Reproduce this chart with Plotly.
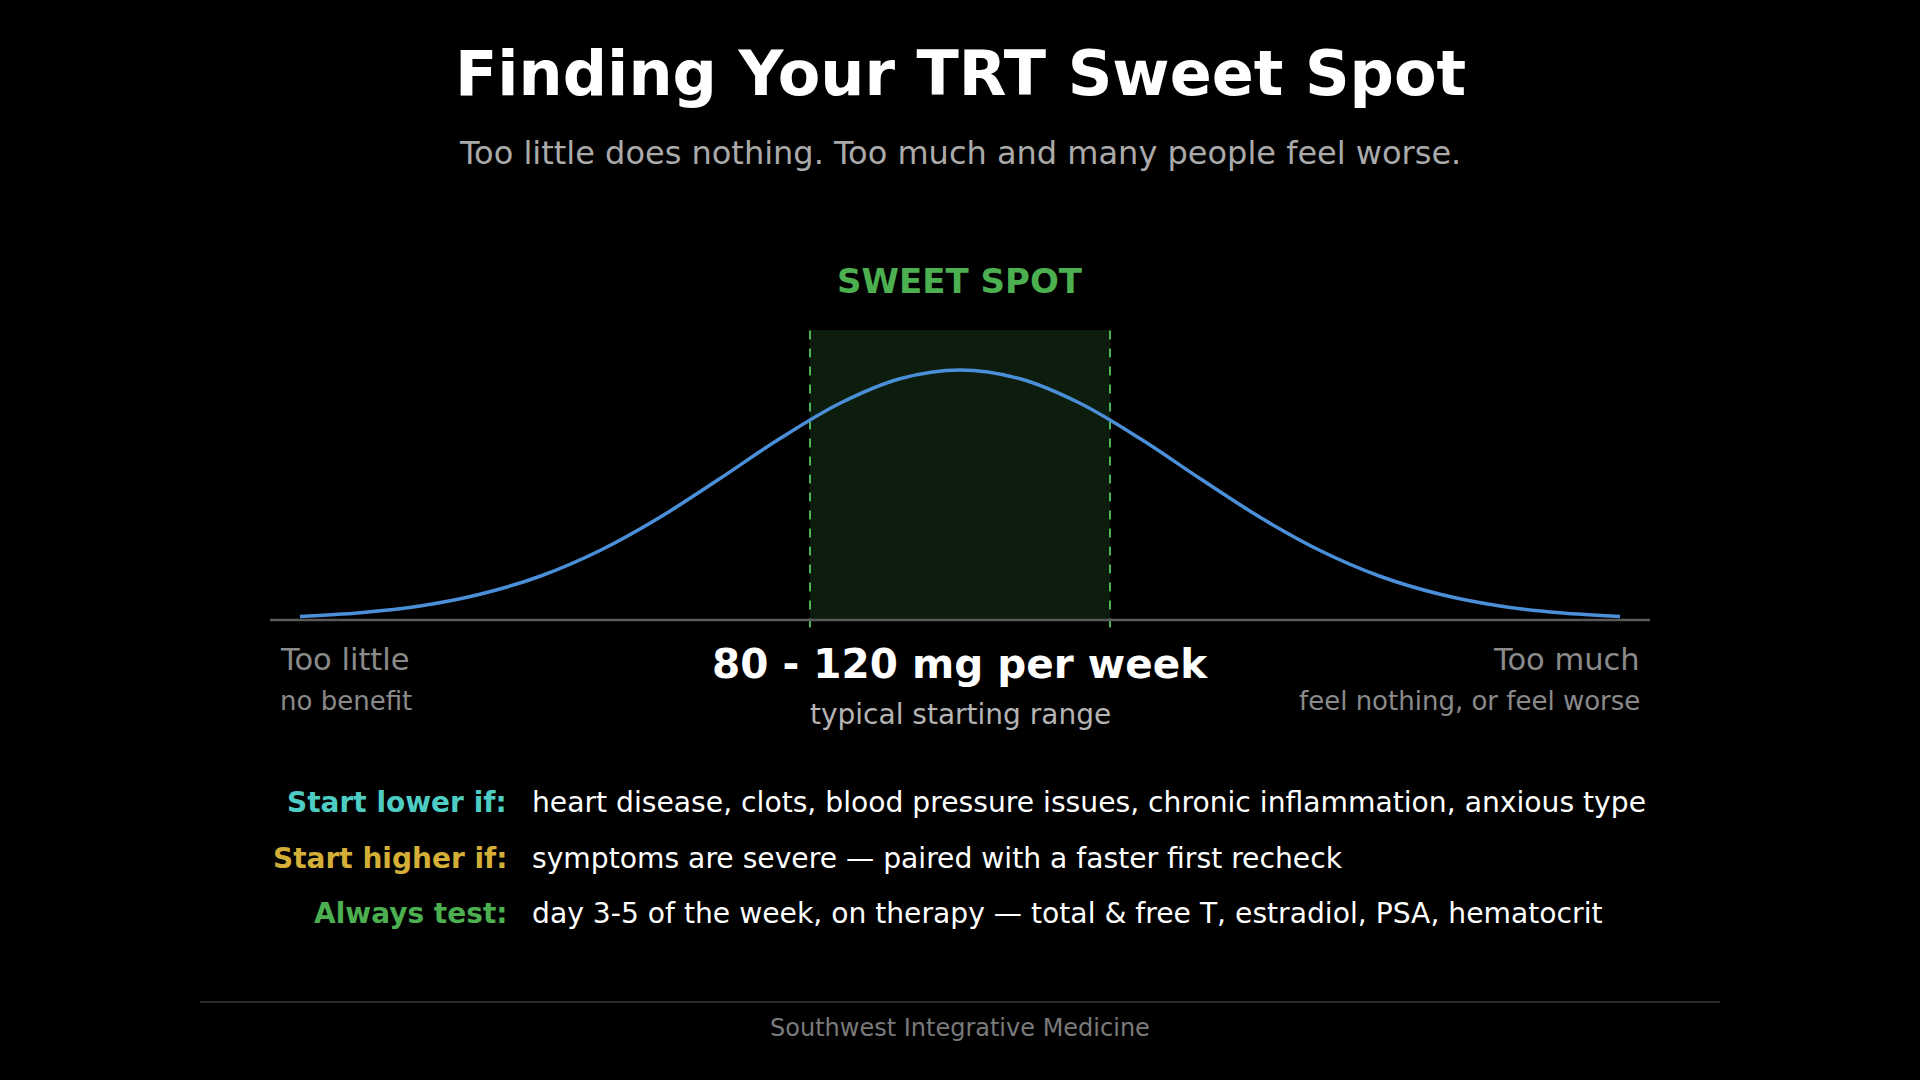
import plotly.graph_objects as go

# ---------------- data ----------------
dose_mg = [12, 20, 28, 36, 44, 52, 60, 68, 76, 84, 92, 100,
           108, 116, 124, 132, 140, 148, 156, 164, 172, 180, 188]
response = [0.014, 0.029, 0.056, 0.103, 0.175, 0.278, 0.411, 0.566, 0.726, 0.867, 0.965, 1.000,
            0.965, 0.867, 0.726, 0.566, 0.411, 0.278, 0.175, 0.103, 0.056, 0.029, 0.014]
sweet_range = [80, 120]
axis_span = [8, 192]

title_text = "Finding Your TRT Sweet Spot"
subtitle_text = "Too little does nothing. Too much and many people feel worse."
sweet_label = "SWEET SPOT"
range_label = "80 - 120 mg per week"
range_sub = "typical starting range"
left_labels = ["Too little", "no benefit"]
right_labels = ["Too much", "feel nothing, or feel worse"]
row_keys = ["Start lower if:", "Start higher if:", "Always test:"]
row_texts = [
    "heart disease, clots, blood pressure issues, chronic inflammation, anxious type",
    "symptoms are severe \u2014 paired with a faster first recheck",
    "day 3-5 of the week, on therapy \u2014 total & free T, estradiol, PSA, hematocrit",
]
row_colors = ["#4ECDC4", "#D4AF37", "#4CAF50"]
footer_text = "Southwest Integrative Medicine"

# ---------------- figure ----------------
W, H = 1920, 1080
FONT = "DejaVu Sans"
GREEN = "#4CAF50"


def px(x):
    return x / W


def py(y):
    return 1 - y / H


fig = go.Figure()
fig.add_trace(go.Scatter(
    x=dose_mg, y=response, mode="lines",
    line=dict(color="#4A8FD8", width=3.5, shape="spline", smoothing=1.0),
    hoverinfo="skip", showlegend=False,
))

shapes = [
    # sweet spot band
    dict(type="rect", xref="x", yref="y", x0=sweet_range[0], x1=sweet_range[1],
         y0=0, y1=1.16, fillcolor="rgba(76,175,80,0.16)", line=dict(width=0), layer="below"),
    dict(type="line", xref="x", yref="y", x0=sweet_range[0], x1=sweet_range[0],
         y0=-0.03, y1=1.16, line=dict(color=GREEN, width=2, dash="dash"), layer="below"),
    dict(type="line", xref="x", yref="y", x0=sweet_range[1], x1=sweet_range[1],
         y0=-0.03, y1=1.16, line=dict(color=GREEN, width=2, dash="dash"), layer="below"),
    # baseline
    dict(type="line", xref="x", yref="y", x0=axis_span[0], x1=axis_span[1],
         y0=0, y1=0, line=dict(color="#5a5a5a", width=2.5), layer="below"),
    # footer rule
    dict(type="line", xref="paper", yref="paper", x0=px(200), x1=px(1720),
         y0=py(1002), y1=py(1002), line=dict(color="#3a3a3a", width=1.5)),
]

annotations = []


def note(text, x, y, size, color, bold=False, xanchor="center"):
    if bold:
        text = "<b>" + text + "</b>"
    annotations.append(dict(
        text=text, x=px(x), y=py(y), xref="paper", yref="paper",
        xanchor=xanchor, yanchor="middle", showarrow=False, borderpad=0,
        font=dict(family=FONT, size=size, color=color),
    ))


note(title_text, 960, 73, 62, "#ffffff", bold=True)
note(subtitle_text, 960, 153, 32, "#aaaaaa")
note(sweet_label, 960, 281, 34, GREEN, bold=True)
note(range_label, 960, 664, 40.5, "#ffffff", bold=True)
note(range_sub, 960, 714, 28, "#b4b4b4")
note(left_labels[0], 279, 659, 30.5, "#8a8a8a", xanchor="left")
note(left_labels[1], 279, 701, 26, "#8a8a8a", xanchor="left")
note(right_labels[0], 1641, 659, 30.5, "#8a8a8a", xanchor="right")
note(right_labels[1], 1641, 701, 26, "#8a8a8a", xanchor="right")

row_y = [802, 858, 913]
for key, txt, col, yy in zip(row_keys, row_texts, row_colors, row_y):
    note(key, 508, yy, 28, col, bold=True, xanchor="right")
    note(txt, 531, yy, 28.2, "#ffffff", xanchor="left")

note(footer_text, 960, 1028, 24, "#7a7a7a")

fig.update_layout(
    width=W, height=H,
    margin=dict(l=0, r=0, t=0, b=0),
    paper_bgcolor="#000000", plot_bgcolor="#000000",
    shapes=shapes, annotations=annotations,
    xaxis=dict(range=[0, 200], domain=[px(210), px(1710)], visible=False, fixedrange=True),
    yaxis=dict(range=[-0.1, 1.2], domain=[py(645), py(320)], visible=False, fixedrange=True),
    showlegend=False,
)

fig.write_html(
    "out.html",
    config={"displayModeBar": False},
    post_script="document.body.style.margin='0';document.body.style.background='#000';"
                "document.body.style.overflow='hidden';",
)
